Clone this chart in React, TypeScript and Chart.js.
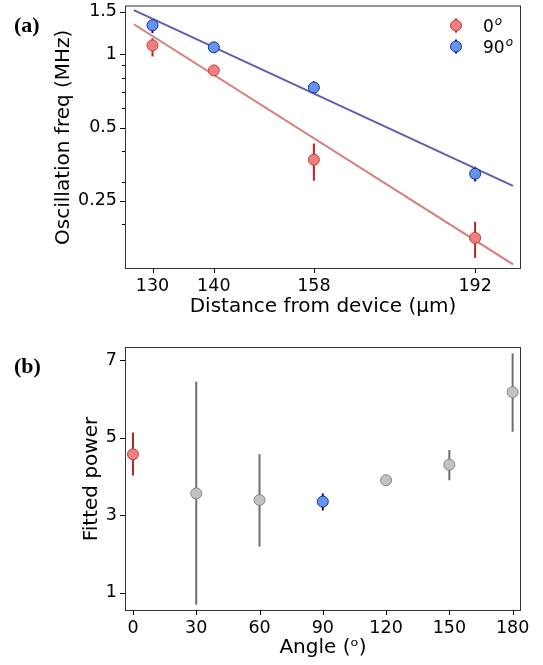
import React, { useEffect, useRef } from 'react';
import { Chart, registerables } from 'chart.js';
Chart.register(...registerables);

// ---------- Panel (a) data ----------
const distances = [130, 140, 158, 192];
const distanceTicks = [130, 140, 158, 192];
const freq0 = [1.089, 0.859, 0.369, 0.176];
const freq0Lo = [0.981, 0.835, 0.302, 0.1455];
const freq0Hi = [1.164, 0.885, 0.43, 0.205];
const freq90 = [1.317, 1.069, 0.731, 0.323];
const freq90Lo = [1.225, 1.05, 0.69, 0.30];
const freq90Hi = [1.37, 1.09, 0.774, 0.345];
const fitX = [127.1, 201.0];
const fit0 = [1.33, 0.137];
const fit90 = [1.52, 0.288];
const freqMajorTicks = [0.25, 0.5, 1, 1.5];
const freqMinorTicks = [0.2, 0.3, 0.4, 0.6, 0.7, 0.8, 0.9];
const legendLabels = ['0', '90'];

// ---------- Panel (b) data ----------
const angles = [0, 30, 60, 90, 120, 150, 180];
const power = [4.57, 3.56, 3.39, 3.35, 3.9, 4.3, 6.17];
const powerLo = [4.02, 0.69, 2.19, 3.12, 3.86, 3.9, 5.15];
const powerHi = [5.13, 6.44, 4.57, 3.56, 3.94, 4.68, 7.17];
const angleTicks = [0, 30, 60, 90, 120, 150, 180];
const powerTicks = [1, 3, 5, 7];

const FONT = "'DejaVu Sans', sans-serif";
const RED = { fill: '#f08080', edge: '#c23b3b', err: '#b22222', line: '#d77b7b' };
const BLUE = { fill: '#6495ed', edge: '#1c2aa0', err: '#0a0a80', line: '#5e5eb4' };
const GREY = { fill: '#c2c2c2', edge: '#858585', err: '#6e6e6e' };

function angleStyle(a: number) {
  if (a === 0) return RED;
  if (a === 90) return BLUE;
  return GREY;
}

const errorBarPlugin = {
  id: 'errorBars',
  beforeDatasetsDraw(chart: any) {
    const ctx = chart.ctx;
    const a = chart.chartArea;
    const ys = chart.scales.y;
    ctx.save();
    ctx.beginPath();
    ctx.rect(a.left, a.top, a.right - a.left, a.bottom - a.top);
    ctx.clip();
    chart.data.datasets.forEach((ds: any, i: number) => {
      if (!ds.errLo) return;
      const meta = chart.getDatasetMeta(i);
      meta.data.forEach((pt: any, j: number) => {
        const y1 = ys.getPixelForValue(ds.errLo[j]);
        const y2 = ys.getPixelForValue(ds.errHi[j]);
        ctx.strokeStyle = Array.isArray(ds.errColor) ? ds.errColor[j] : ds.errColor;
        ctx.lineWidth = 2;
        ctx.beginPath();
        ctx.moveTo(pt.x, y1);
        ctx.lineTo(pt.x, y2);
        ctx.stroke();
      });
    });
    ctx.restore();
  },
};

const frameTicksPlugin = {
  id: 'frameTicks',
  afterDraw(chart: any, _args: any, opts: any) {
    const ctx = chart.ctx;
    const a = chart.chartArea;
    ctx.save();
    ctx.strokeStyle = '#333';
    ctx.lineWidth = 1;
    ctx.strokeRect(a.left - 0.5, a.top - 0.5, a.right - a.left + 1, a.bottom - a.top + 1);
    ctx.strokeStyle = '#000';
    const xs = chart.scales.x;
    xs.ticks.forEach((t: any) => {
      const px = Math.round(xs.getPixelForValue(t.value)) + 0.5;
      ctx.beginPath();
      ctx.moveTo(px, a.bottom);
      ctx.lineTo(px, a.bottom + 5);
      ctx.stroke();
    });
    const ys = chart.scales.y;
    ys.ticks.forEach((t: any) => {
      const py = Math.round(ys.getPixelForValue(t.value)) + 0.5;
      const len = t.label === '' ? 3 : 5;
      ctx.beginPath();
      ctx.moveTo(a.left - len - 1, py);
      ctx.lineTo(a.left - 1, py);
      ctx.stroke();
    });
    if (opts && opts.label) {
      ctx.fillStyle = '#000';
      ctx.font = "bold 22px 'Liberation Serif', serif";
      ctx.textAlign = 'left';
      ctx.textBaseline = 'middle';
      ctx.fillText(opts.label, 14, opts.labelY);
    }
    ctx.restore();
  },
};

const legendPlugin = {
  id: 'innerLegend',
  afterDraw(chart: any, _args: any, opts: any) {
    if (!opts || !opts.show) return;
    const ctx = chart.ctx;
    const a = chart.chartArea;
    const styles = [RED, BLUE];
    ctx.save();
    legendLabels.forEach((lab, i) => {
      const st = styles[i];
      const cx = a.right - 64;
      const cy = a.top + 19 + i * 21;
      ctx.strokeStyle = st.err;
      ctx.lineWidth = 2;
      ctx.beginPath();
      ctx.moveTo(cx, cy - 7);
      ctx.lineTo(cx, cy + 7);
      ctx.stroke();
      ctx.beginPath();
      ctx.arc(cx, cy, 5.5, 0, Math.PI * 2);
      ctx.fillStyle = st.fill;
      ctx.fill();
      ctx.lineWidth = 1;
      ctx.strokeStyle = st.edge;
      ctx.stroke();
      ctx.fillStyle = '#000';
      ctx.textAlign = 'left';
      ctx.textBaseline = 'alphabetic';
      ctx.font = `17px ${FONT}`;
      const tx = a.right - 37;
      ctx.fillText(lab, tx, cy + 6);
      const w = ctx.measureText(lab).width;
      ctx.font = `italic 12px ${FONT}`;
      ctx.fillText('o', tx + w + 1, cy - 1);
    });
    ctx.restore();
  },
};

function axisCommon(size: number) {
  return {
    font: { family: FONT, size },
    color: '#000',
  };
}

function fixX(h: number) {
  return (s: any) => {
    s.height = h;
    s.paddingLeft = 0;
    s.paddingRight = 0;
    s.paddingTop = 0;
    s.paddingBottom = 0;
  };
}
function fixY(w: number) {
  return (s: any) => {
    s.width = w;
    s.paddingLeft = 0;
    s.paddingRight = 0;
    s.paddingTop = 0;
    s.paddingBottom = 0;
  };
}

function topConfig(): any {
  return {
    type: 'scatter',
    data: {
      datasets: [
        {
          type: 'line',
          label: 'fit0',
          data: fitX.map((x, i) => ({ x, y: fit0[i] })),
          borderColor: RED.line,
          borderWidth: 2,
          pointRadius: 0,
          fill: false,
          order: 3,
        },
        {
          type: 'line',
          label: 'fit90',
          data: fitX.map((x, i) => ({ x, y: fit90[i] })),
          borderColor: BLUE.line,
          borderWidth: 2,
          pointRadius: 0,
          fill: false,
          order: 3,
        },
        {
          label: '0',
          data: distances.map((x, i) => ({ x, y: freq0[i] })),
          errLo: freq0Lo,
          errHi: freq0Hi,
          errColor: RED.err,
          backgroundColor: RED.fill,
          borderColor: RED.edge,
          pointRadius: 5.5,
          borderWidth: 1,
          order: 1,
        },
        {
          label: '90',
          data: distances.map((x, i) => ({ x, y: freq90[i] })),
          errLo: freq90Lo,
          errHi: freq90Hi,
          errColor: BLUE.err,
          backgroundColor: BLUE.fill,
          borderColor: BLUE.edge,
          pointRadius: 5.5,
          borderWidth: 1,
          order: 1,
        },
      ],
    },
    options: {
      animation: false,
      responsive: false,
      layout: { padding: { left: 0, right: 23, top: 6, bottom: 0 } },
      plugins: {
        legend: { display: false },
        tooltip: { enabled: false },
        frameTicks: { label: '(a)', labelY: 26 },
        innerLegend: { show: true },
      },
      scales: {
        x: {
          type: 'logarithmic',
          min: 125.9,
          max: 202.7,
          afterBuildTicks: (s: any) => {
            s.ticks = distanceTicks.map((v) => ({ value: v }));
          },
          afterFit: fixX(52),
          ticks: {
            ...axisCommon(17.5),
            autoSkip: false,
            maxRotation: 0,
            padding: 3,
            callback: (v: any) => String(v),
          },
          grid: { color: 'rgba(0,0,0,0)', drawOnChartArea: false, tickLength: 5 },
          border: { display: false },
          title: {
            display: true,
            text: 'Distance from device (μm)',
            ...axisCommon(20),
            padding: { top: 0, bottom: 1 },
          },
        },
        y: {
          type: 'logarithmic',
          min: 0.1324,
          max: 1.573,
          afterBuildTicks: (s: any) => {
            s.ticks = [...freqMinorTicks, ...freqMajorTicks]
              .sort((p, q) => p - q)
              .map((v) => ({ value: v }));
          },
          afterFit: fixY(126),
          ticks: {
            ...axisCommon(17.5),
            autoSkip: false,
            padding: 4,
            callback: (v: any) => (freqMajorTicks.includes(v) ? String(v) : ''),
          },
          grid: { color: 'rgba(0,0,0,0)', drawOnChartArea: false, tickLength: 5 },
          border: { display: false },
          title: {
            display: true,
            text: 'Oscillation freq (MHz)',
            ...axisCommon(20),
            padding: { top: 52, bottom: 0 },
          },
        },
      },
    },
    plugins: [errorBarPlugin, frameTicksPlugin, legendPlugin],
  };
}

function bottomConfig(): any {
  return {
    type: 'scatter',
    data: {
      datasets: [
        {
          label: 'power',
          data: angles.map((x, i) => ({ x, y: power[i] })),
          errLo: powerLo,
          errHi: powerHi,
          errColor: angles.map((a) => angleStyle(a).err),
          backgroundColor: angles.map((a) => angleStyle(a).fill),
          borderColor: angles.map((a) => angleStyle(a).edge),
          pointRadius: 5.5,
          borderWidth: 1,
        },
      ],
    },
    options: {
      animation: false,
      responsive: false,
      layout: { padding: { left: 0, right: 23, top: 28, bottom: 0 } },
      plugins: {
        legend: { display: false },
        tooltip: { enabled: false },
        frameTicks: { label: '(b)', labelY: 47 },
        innerLegend: { show: false },
      },
      scales: {
        x: {
          type: 'linear',
          min: -3.3,
          max: 183.5,
          afterBuildTicks: (s: any) => {
            s.ticks = angleTicks.map((v) => ({ value: v }));
          },
          afterFit: fixX(55),
          ticks: {
            ...axisCommon(17.5),
            autoSkip: false,
            maxRotation: 0,
            padding: 3,
            callback: (v: any) => String(v),
          },
          grid: { color: 'rgba(0,0,0,0)', drawOnChartArea: false, tickLength: 5 },
          border: { display: false },
          title: {
            display: true,
            text: 'Angle (ᵒ)',
            ...axisCommon(20),
            padding: { top: 0, bottom: 5 },
          },
        },
        y: {
          type: 'linear',
          min: 0.554,
          max: 7.31,
          afterBuildTicks: (s: any) => {
            s.ticks = powerTicks.map((v) => ({ value: v }));
          },
          afterFit: fixY(126),
          ticks: {
            ...axisCommon(17.5),
            autoSkip: false,
            padding: 4,
            callback: (v: any) => String(v),
          },
          grid: { color: 'rgba(0,0,0,0)', drawOnChartArea: false, tickLength: 5 },
          border: { display: false },
          title: {
            display: true,
            text: 'Fitted power',
            ...axisCommon(20),
            padding: { top: 80, bottom: 0 },
          },
        },
      },
    },
    plugins: [errorBarPlugin, frameTicksPlugin],
  };
}

export default function App() {
  const topRef = useRef<HTMLCanvasElement>(null);
  const botRef = useRef<HTMLCanvasElement>(null);
  useEffect(() => {
    const c1 = new Chart(topRef.current as HTMLCanvasElement, topConfig());
    const c2 = new Chart(botRef.current as HTMLCanvasElement, bottomConfig());
    return () => {
      c1.destroy();
      c2.destroy();
    };
  }, []);
  return (
    <div style={{ position: 'absolute', left: 0, top: 0, width: 543, height: 665, background: '#fff' }}>
      <canvas
        ref={topRef}
        width={543}
        height={320}
        style={{ position: 'absolute', left: 0, top: 0, width: 543, height: 320 }}
      />
      <canvas
        ref={botRef}
        width={543}
        height={345}
        style={{ position: 'absolute', left: 0, top: 320, width: 543, height: 345 }}
      />
    </div>
  );
}
